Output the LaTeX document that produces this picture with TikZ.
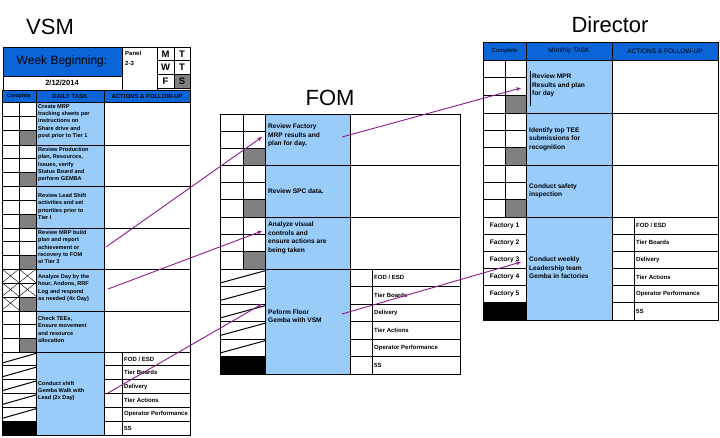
\documentclass[tikz,border=0pt]{standalone}
\usepackage{fontspec}
\usetikzlibrary{arrows.meta}
\setmainfont{Liberation Sans}
\definecolor{hblue}{HTML}{0A66D8}
\definecolor{lblue}{HTML}{9ACCFA}
\definecolor{cgray}{HTML}{808080}
\definecolor{arr}{HTML}{8E1A8A}
\newcommand\stdrow[7]{%
 \pgfmathsetmacro\ha{#6+(#7-#6)/3}\pgfmathsetmacro\hb{#6+2*(#7-#6)/3}%
 \fill[cgray] (#2,\hb) rectangle (#3,#7);
 \fill[lblue] (#3,#6) rectangle (#4,#7);
 \draw[grid] (#1,#6) rectangle (#5,#7);
 \draw[grid] (#1,\ha) -- (#3,\ha) (#1,\hb) -- (#3,\hb) (#2,#6)--(#2,#7) (#3,#6)--(#3,#7) (#4,#6)--(#4,#7);
}
\newcommand\gemrow[8]{%
 \pgfmathsetmacro\hh{(#7-#6)/6}%
 \fill[lblue] (#2,#6) rectangle (#3,#7);
 \fill[black] (#1,#7-\hh) rectangle (#2,#7);
 \draw[grid] (#1,#6) rectangle (#5,#7) (#2,#6)--(#2,#7) (#3,#6)--(#3,#7) (#4,#6)--(#4,#7);
 \foreach \i/\lab in {0/{FOD / ESD},1/{Tier Boards},2/Delivery,3/{Tier Actions},4/{Operator Performance},5/5S}{
   \pgfmathsetmacro\yy{#6+\i*\hh}
   \draw[grid] (#1,\yy) -- (#2,\yy) (#3,\yy) -- (#5,\yy);
   \node[lab] at (#4+1,\yy+\hh/2) {\lab};
 }
 \ifnum#8=1
 \foreach \i in {0,...,4}{
   \pgfmathsetmacro\yy{#6+\i*\hh}
   \draw[line width=1pt] (#1,\yy+0.8*\hh) -- (#2,\yy+0.1*\hh);
 }\fi
}
\tikzset{
 grid/.style={draw=black,line width=0.8pt},
 title/.style={font=\fontsize{22}{24}\selectfont},
 tsk/.style={font=\fontsize{5.6}{7.4}\selectfont\bfseries,align=left,anchor=north west,inner sep=0pt},
 tskb/.style={font=\fontsize{6.6}{8.4}\selectfont\bfseries,align=left,anchor=west,inner sep=0pt},
 lab/.style={font=\fontsize{6}{7}\selectfont\bfseries,anchor=west,inner sep=1pt},
 hdr/.style={font=\fontsize{6}{7}\selectfont\bfseries},
 link/.style={arr,line width=0.9pt,-{Stealth[length=5pt,width=4pt]}}
}
\begin{document}
\begin{tikzpicture}[x=1pt,y=-1pt]
\useasboundingbox[fill=white] (0,0) rectangle (720,438);
% ===== VSM =====
\node[title] (tv) at (50,27) {VSM};
\fill[hblue] (3,47) rectangle (122,76);
\node[font=\fontsize{12}{14}\selectfont] (wb) at (62,61) {Week Beginning:};
\draw[grid] (3,47) rectangle (190,90) (3,76)--(122,76) (122,47)--(122,90) (157,47)--(157,90);
\node[font=\fontsize{7.5}{9}\selectfont\bfseries] (dt) at (62,83) {2/12/2014};
\node[hdr,anchor=north west,align=left,inner sep=0pt] (pn) at (125,51) {Panel\\[3pt]2-3};
\fill[cgray] (174,74.3) rectangle (190,88);
\draw[grid] (157,60.7)--(190,60.7) (157,74.3)--(190,74.3) (174,47)--(174,88) (157,88)--(190,88);
\foreach \t/\x/\y in {M/165.5/54,T/182/54,W/165.5/67.5,T/182/67.5,F/165.5/81,S/182/81}
  \node[font=\fontsize{9.5}{10}\selectfont\bfseries] at (\x,\y) {\t};
\fill[hblue] (2,90) rectangle (190,102);
\draw[grid] (2,90) rectangle (190,102) (36,90)--(36,102) (104,90)--(104,102);
\node[hdr,font=\fontsize{5.2}{6}\selectfont\bfseries] at (19,96) {Complete};
\node[hdr] at (70,96) {DAILY TASK};
\node[hdr] at (147,96) {ACTIONS \& FOLLOW-UP};
\stdrow{2}{19}{36}{104}{190}{102}{145}
\stdrow{2}{19}{36}{104}{190}{145}{186}
\stdrow{2}{19}{36}{104}{190}{186}{228}
\stdrow{2}{19}{36}{104}{190}{228}{269}
\stdrow{2}{19}{36}{104}{190}{269}{311}
\stdrow{2}{19}{36}{104}{190}{311}{352}
\foreach \a/\b in {2/19,19/36}{\foreach \c in {269,282.67,296.33}{
  \pgfmathsetmacro\d{\c+13.67}
  \ifdim\b pt=36pt \ifdim\c pt>290pt \else \draw[thin] (\a,\c)--(\b,\d) (\a,\d)--(\b,\c);\fi
  \else \draw[thin] (\a,\c)--(\b,\d) (\a,\d)--(\b,\c);\fi}}
\node[tsk] (v1) at (38,104) {Create MRP\\tracking sheets per\\instructions on\\Share drive and\\post prior to Tier 1};
\node[tsk] (v2) at (38,147) {Review Production\\plan, Resources,\\Issues, verify\\Status Board and\\perform GEMBA};
\node[tsk] (v3) at (38,193) {Review Lead Shift\\activities and set\\priorities prior to\\Tier I};
\node[tsk] (v4) at (38,230) {Review MRP build\\plan and report\\achievement or\\recovery to FOM\\at Tier 3};
\node[tsk] (v5) at (38,274) {Analyze Day by the\\hour, Andons, RRF\\Log and respond\\as needed  (4x Day)};
\node[tsk] (v6) at (38,316) {Check TEEs,\\Ensure movement\\and resource\\allocation};
\gemrow{2}{36}{104}{122}{190}{352}{435}{1}
\node[tsk,anchor=west] (v7) at (38,391) {Conduct shift\\Gemba Walk with\\Lead (2x Day)};
% ===== FOM =====
\node[title] (tf) at (330,98) {FOM};
\stdrow{220}{243}{265}{350}{460}{114}{165}
\stdrow{220}{243}{265}{350}{460}{165}{217}
\stdrow{220}{243}{265}{350}{460}{217}{269}
\gemrow{220}{265}{350}{372}{460}{269}{374}{1}
\node[tskb,anchor=north west] (f1) at (268,124) {Review Factory\\MRP results and\\plan for day.};
\node[tskb] (f2) at (268,191) {Review SPC data.};
\node[tskb,anchor=north west] (f3) at (268,222) {Analyze visual\\controls and\\ensure actions are\\being taken};
\node[tskb] (f4) at (268,316) {Peform Floor\\Gemba with VSM};
% ===== Director =====
\node[title] (td) at (610,25) {Director};
\fill[hblue] (483,42) rectangle (718,60);
\draw[grid] (483,42) rectangle (718,60) (526,42)--(526,60) (612,42)--(612,60);
\node[hdr,font=\fontsize{6}{7}\selectfont] at (504.5,51) {Complete};
\node[hdr,font=\fontsize{6.5}{7}\selectfont] at (569,51) {Monthly TASK};
\node[hdr,font=\fontsize{6.5}{7}\selectfont] at (665,51) {ACTIONS \& FOLLOW-UP};
\stdrow{483}{505}{526}{612}{718}{60}{113}
\stdrow{483}{505}{526}{612}{718}{113}{165}
\stdrow{483}{505}{526}{612}{718}{165}{217}
\gemrow{483}{526}{612}{634}{718}{217}{320}{0}
\foreach \i in {1,...,5}{
  \node[tskb,anchor=center] at (504.5,217+\i*17.17-8.6) {Factory \i};}
\draw[black,line width=0.8pt] (530,71)--(530,106);
\node[tskb,anchor=north west] (d1) at (532,74) {Review MPR\\Results and plan\\for day};
\node[tskb] (d2) at (529,139) {Identify top TEE\\submissions for\\recognition};
\node[tskb] (d3) at (529,191) {Conduct safety\\inspection};
\node[tskb] (d4) at (529,268) {Conduct weekly\\Leadership team\\Gemba in factories};
% ===== links =====
\coordinate (s1) at (106,247); \coordinate (e1) at (262,137);
\coordinate (s2) at (108,289); \coordinate (e2) at (262,231);
\coordinate (s3) at (108,393); \coordinate (e3) at (262,304);
\coordinate (s4) at (342,137); \coordinate (e4) at (521,88);
\coordinate (s5) at (342,314); \coordinate (e5) at (521,262);
\foreach \n in {1,...,5} \draw[link] (s\n) -- (e\n);
\end{tikzpicture}
\end{document}
